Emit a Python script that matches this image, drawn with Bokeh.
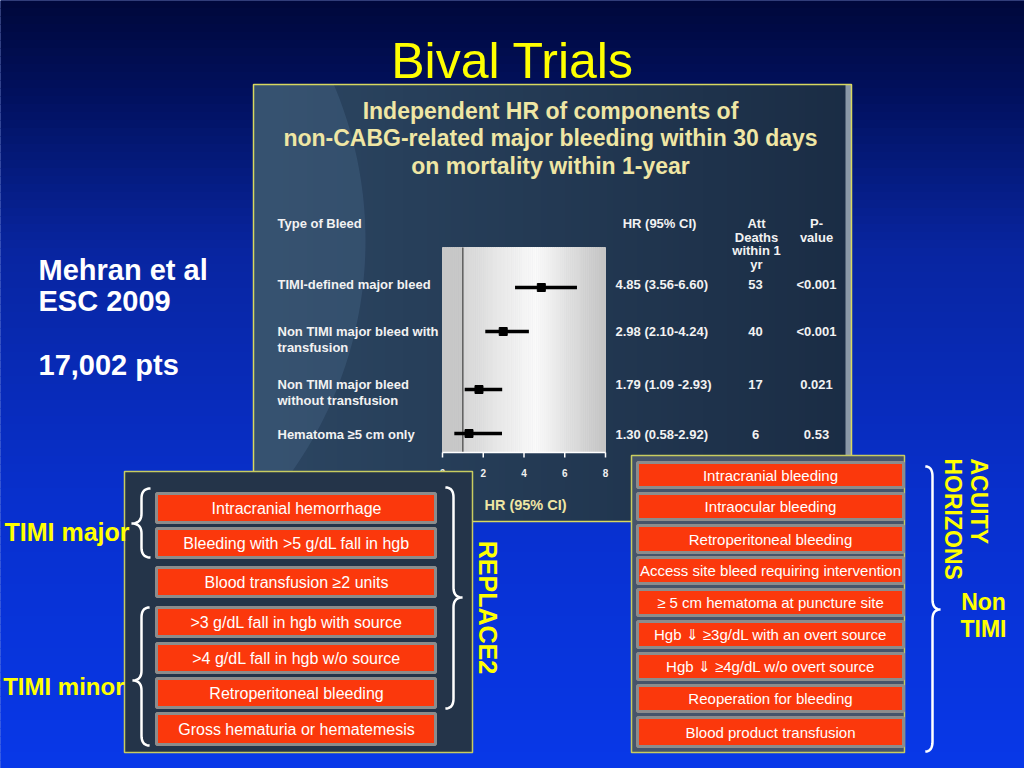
import numpy as np
from bokeh.plotting import figure
from bokeh.models import Range1d
from bokeh.core.properties import value
from bokeh.embed import file_html
from bokeh.resources import INLINE

# ---------------- data ----------------
slide_title = "Bival Trials"
panel_title = ["Independent HR of components of",
               "non-CABG-related major bleeding within 30 days",
               "on mortality within 1-year"]
study_lines = ["Mehran et al", "ESC 2009", "17,002 pts"]

col_type = "Type of Bleed"
col_hr = "HR (95% CI)"
col_deaths = ["Att", "Deaths", "within 1", "yr"]
col_p = ["P-", "value"]

bleed_types = ["TIMI-defined major bleed",
               "Non TIMI major bleed with\ntransfusion",
               "Non TIMI major bleed\nwithout transfusion",
               "Hematoma \u22655 cm only"]
hr = [4.85, 2.98, 1.79, 1.30]
ci_low = [3.56, 2.10, 1.09, 0.58]
ci_high = [6.60, 4.24, 2.93, 2.92]
hr_labels = ["4.85 (3.56-6.60)", "2.98 (2.10-4.24)", "1.79 (1.09 -2.93)", "1.30 (0.58-2.92)"]
deaths = [53, 40, 17, 6]
p_values = ["<0.001", "<0.001", "0.021", "0.53"]
hr_ticks = [0, 2, 4, 6, 8]
hr_ref = 1
axis_title = "HR (95% CI)"

replace2_items = ["Intracranial hemorrhage",
                  "Bleeding with >5 g/dL fall in hgb",
                  "Blood transfusion \u22652 units",
                  ">3 g/dL fall in hgb with source",
                  ">4 g/dL fall in hgb w/o source",
                  "Retroperitoneal bleeding",
                  "Gross hematuria or hematemesis"]
acuity_items = ["Intracranial bleeding",
                "Intraocular bleeding",
                "Retroperitoneal bleeding",
                "Access site bleed requiring intervention",
                "\u2265 5 cm hematoma at puncture site",
                "Hgb \u21d3 \u22653g/dL with an overt source",
                "Hgb \u21d3 \u22654g/dL w/o overt source",
                "Reoperation for bleeding",
                "Blood product transfusion"]
timi_labels = ["TIMI major", "TIMI minor"]
replace2_label = "REPLACE2"
acuity_label = ["ACUITY", "HORIZONS"]
non_timi = ["Non", "TIMI"]

# ---------------- layout ----------------
row_y = [284, 331, 384, 434]
mark_y = [287, 331, 389, 433]
rep_top = [493, 528, 567, 607, 643, 678, 713]
rep_bot = [522, 557, 596, 636, 672, 707, 744]
acu_top = [462, 493, 525, 557, 589, 621, 653, 685, 717]
acu_bot = [487, 519, 552, 583, 615, 647, 679, 711, 746]

FONT = value("Liberation Sans")
YEL = "#ffff00"
W, H = 1024, 768

p = figure(width=W, height=H, x_range=Range1d(0, W), y_range=Range1d(H, 0),
           output_backend="svg", toolbar_location=None, min_border=0,
           x_axis_location=None, y_axis_location=None)
p.grid.visible = False
p.outline_line_color = None
p.background_fill_color = "#0a30c0"
p.border_fill_color = "#0a30c0"

# HR scale: 0 -> x=442, 8 -> x=605
px_per = (605 - 442) / 8.0
p.extra_x_ranges = {"hr": Range1d((0 - 442) / px_per, (W - 442) / px_per)}


def txt(x, y, s, size, color="white", bold=False, align="left", baseline="middle",
        angle=0.0, xr="default"):
    if not isinstance(x, list):
        x, y, s = [x], [y], [s]
    p.text(x=x, y=y, text=s, text_font=FONT, text_font_size=size, text_color=color,
           text_font_style="bold" if bold else "normal", text_align=align,
           text_baseline=baseline, angle=angle, x_range_name=xr)


def hexc(c):
    return "#%02x%02x%02x" % tuple(int(round(v)) for v in c)


# ---- slide background gradient ----
stops_y = [0, 90, 250, 500, 768]
stops_c = np.array([(0, 8, 58), (1, 16, 92), (8, 37, 160), (8, 48, 205), (8, 56, 232)])
y0s = np.arange(0, H, 8)
cols = [hexc([np.interp(y0 + 4, stops_y, stops_c[:, k]) for k in range(3)]) for y0 in y0s]
p.quad(left=0, right=W, top=list(y0s), bottom=list(y0s + 8), fill_color=cols, line_color=cols,
       line_width=1)

# ---- forest panel ----
xs = np.arange(253, 851, 6)
pc = []
for x0 in xs:
    t = (x0 - 253) / 598.0
    pc.append(hexc((44 + (26 - 44) * t, 70 + (44 - 70) * t, 98 + (68 - 98) * t)))
p.quad(left=list(xs), right=list(np.minimum(xs + 6, 851)), top=84, bottom=521, fill_color=pc,
       line_color=pc, line_width=1)
yy = np.linspace(84, 521, 60)
xx = np.maximum(-35 + np.sqrt(400 ** 2 - (yy - 240) ** 2), 253)
p.patch(x=[253] + list(xx) + [253], y=[84] + list(yy) + [521], fill_color="#4a6a8c",
        fill_alpha=0.35, line_color=None)
p.quad(left=845, right=851, top=84, bottom=521, fill_color="#8a98a8", line_color=None)
p.quad(left=253, right=851, top=84, bottom=521, fill_color=None, line_color="#d8d860", line_width=1.5)

# panel title
for i, s in enumerate(panel_title):
    txt(550, 110 + i * 27.5, s, "23px", "#efe6a4", bold=True, align="center")

# column headers
txt(277, 223, col_type, "13px", "#f2f2f2", bold=True)
txt(659, 223, col_hr, "13px", "#f2f2f2", bold=True, align="center")
for i, s in enumerate(col_deaths):
    txt(756, 223 + i * 13.5, s, "13px", "#f2f2f2", bold=True, align="center")
for i, s in enumerate(col_p):
    txt(816, 223 + i * 13.5, s, "13px", "#f2f2f2", bold=True, align="center")

# forest plot area (gray gradient)
edges = np.arange(0, 8.0001, 0.1)
gc = []
for e in edges[:-1]:
    m = e + 0.05
    if m < hr_ref:
        g = 200
    else:
        g = np.interp(m, [hr_ref, 4.6, 8], [214, 250, 196])
    gc.append(hexc((g, g, g)))
p.quad(left=list(edges[:-1]), right=list(edges[1:]), top=247, bottom=452, fill_color=gc,
       line_color=gc, line_width=1, x_range_name="hr")
p.segment(x0=[hr_ref], y0=[247], x1=[hr_ref], y1=[452], line_color="#222222", line_width=1,
          x_range_name="hr")
# axis
p.segment(x0=[hr_ticks[0]], y0=[452], x1=[hr_ticks[-1]], y1=[452], line_color="white",
          line_width=1.5, x_range_name="hr")
p.segment(x0=hr_ticks, y0=[452] * len(hr_ticks), x1=hr_ticks, y1=[457] * len(hr_ticks),
          line_color="white", line_width=1.5, x_range_name="hr")
txt(list(hr_ticks), [472] * len(hr_ticks), [str(t) for t in hr_ticks], "10px", "#f0f0f0",
    bold=True, align="center", xr="hr")
txt(525, 504, axis_title, "14.5px", "#efe6a4", bold=True, align="center")

# CI lines and points
p.segment(x0=ci_low, y0=mark_y, x1=ci_high, y1=mark_y, line_color="black", line_width=3.5,
          x_range_name="hr")
p.scatter(x=hr, y=mark_y, marker="square", size=8, color="black", x_range_name="hr")

# row labels and values
for i, lab in enumerate(bleed_types):
    for j, line in enumerate(lab.split("\n")):
        txt(277, row_y[i] + j * 16, line, "13px", "#f2f2f2", bold=True)
txt([615] * 4, row_y, hr_labels, "13px", "#f2f2f2", bold=True)
txt([755] * 4, row_y, [str(d) for d in deaths], "13px", "#f2f2f2", bold=True, align="center")
txt([816] * 4, row_y, p_values, "13px", "#f2f2f2", bold=True, align="center")

# ---- REPLACE2 panel ----
p.quad(left=124, right=472, top=471, bottom=752, fill_color="#243449", line_color="#c8cc60",
       line_width=1.5)
p.quad(left=156, right=435, top=rep_top, bottom=rep_bot, fill_color="#fb380c",
       line_color="#8c8c8c", line_width=3)
txt([296] * len(replace2_items), [(a + b) / 2 for a, b in zip(rep_top, rep_bot)],
    replace2_items, "16px", "white", align="center")

# ---- ACUITY panel ----
p.quad(left=631, right=904, top=455, bottom=752, fill_color="#46546a", line_color="#c8cc60",
       line_width=1.5)
p.quad(left=637, right=903, top=acu_top, bottom=acu_bot, fill_color="#fb380c",
       line_color="#8c8c8c", line_width=3)
txt([770] * len(acuity_items), [(a + b) / 2 for a, b in zip(acu_top, acu_bot)],
    acuity_items, "15px", "white", align="center")

# ---- slide texts ----
txt(512, 60, slide_title, "50px", YEL, align="center")
for s, yc in zip(study_lines, [269, 300, 364]):
    txt(38, yc, s, "29px", "white", bold=True)
txt(129, 531, timi_labels[0], "25px", YEL, bold=True, align="right")
txt(124, 686, timi_labels[1], "24px", YEL, bold=True, align="right")
txt(487, 607, replace2_label, "25px", YEL, bold=True, align="center", angle=-np.pi / 2)
txt(978, 458, acuity_label[0], "23px", YEL, bold=True, align="left", angle=-np.pi / 2)
txt(952, 458, acuity_label[1], "23px", YEL, bold=True, align="left", angle=-np.pi / 2)
txt(983, 601, non_timi[0], "23px", YEL, bold=True, align="center")
txt(983, 628, non_timi[1], "23px", YEL, bold=True, align="center")


# ---- braces ----
def qbez(p0, c, p1, n=12):
    t = np.linspace(0, 1, n)
    x = (1 - t) ** 2 * p0[0] + 2 * (1 - t) * t * c[0] + t ** 2 * p1[0]
    y = (1 - t) ** 2 * p0[1] + 2 * (1 - t) * t * c[1] + t ** 2 * p1[1]
    return list(x), list(y)


def brace(xl, y0, y1, ym, w, r=10):
    # xl: spine x, w: signed tip offset (negative = points left)
    end = xl - w * 0.9
    X, Y = [], []
    for seg in [((end, y0), (xl, y0), (xl, y0 + r)),
                ((xl, ym - r), (xl, ym), (xl + w, ym)),
                ((xl + w, ym), (xl, ym), (xl, ym + r)),
                ((xl, y1 - r), (xl, y1), (end, y1))]:
        bx, by = qbez(*seg)
        X += bx
        Y += by
    p.line(X, Y, line_color="white", line_width=2.5)


brace(141, 488, 557, 523, -10)
brace(141, 607, 745, 680, -9)
brace(453, 487, 708, 597, 9)
brace(932, 466, 751, 609, 8)

open("out.html", "w").write(file_html(p, INLINE))
